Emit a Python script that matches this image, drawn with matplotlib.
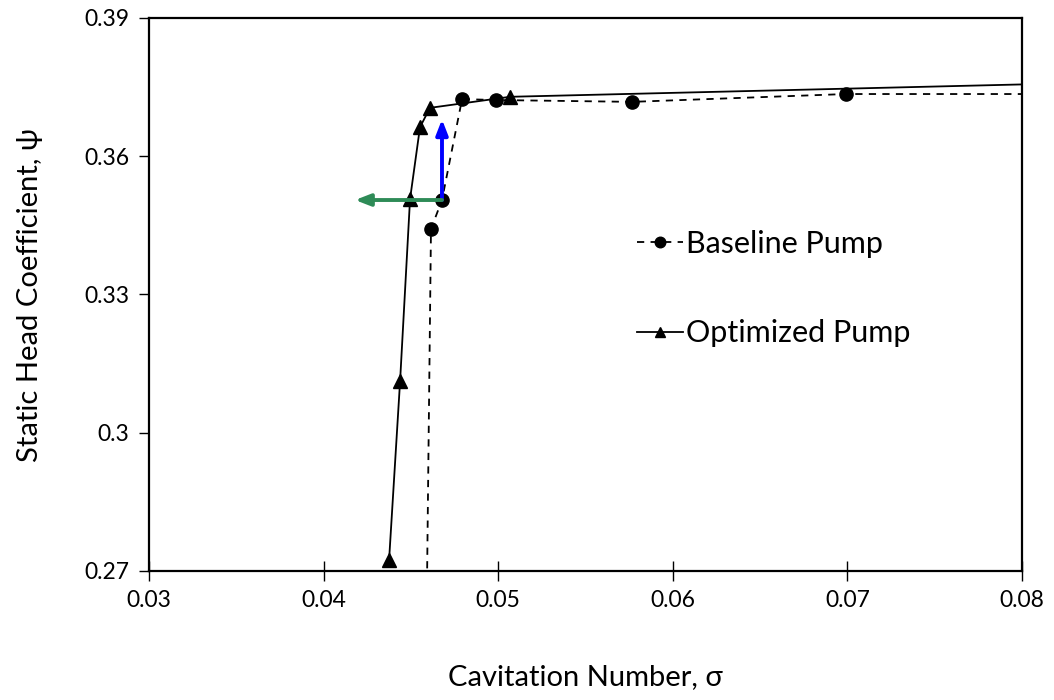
import matplotlib
matplotlib.use('Agg')
import matplotlib.pyplot as plt

# Baseline pump (dashed, circles)
base_sigma = [0.04587, 0.04615, 0.04678, 0.04793, 0.04987, 0.05766, 0.06992, 0.0900]
base_psi = [0.2500, 0.3442, 0.3505, 0.3724, 0.3722, 0.3718, 0.3735, 0.3735]

# Optimized pump (solid, triangles)
opt_sigma = [0.04375, 0.04438, 0.04495, 0.04552, 0.04609, 0.05068, 0.0900]
opt_psi = [0.2724, 0.3112, 0.3507, 0.3663, 0.3705, 0.3729, 0.3765]

xticks = [0.03, 0.04, 0.05, 0.06, 0.07, 0.08]
yticks = [0.27, 0.30, 0.33, 0.36, 0.39]
ytick_labels = ['0.27', '0.3', '0.33', '0.36', '0.39']

# arrow start point and ends
arrow_origin = (0.04678, 0.3505)
arrow_up_end = (0.04678, 0.3680)
arrow_left_end = (0.0418, 0.3505)

font = ['Lato', 'DejaVu Sans']
plt.rcParams['font.family'] = font

fig = plt.figure(figsize=(10.54, 7.0), dpi=100)
ax = fig.add_axes([0.1414, 0.1843, 0.8282, 0.79])

ax.plot(base_sigma, base_psi, color='black', linestyle=(0, (4, 3.5)), linewidth=1.3,
        marker='o', markersize=9.5, label='Baseline Pump')
ax.plot(opt_sigma, opt_psi, color='black', linestyle='-', linewidth=1.3,
        marker='^', markersize=9.5, label='Optimized Pump')

ax.annotate('', xy=arrow_up_end, xytext=arrow_origin,
            arrowprops=dict(arrowstyle='-|>,head_length=0.9,head_width=0.35',
                            color='#0000ff', lw=2.8, shrinkA=0, shrinkB=0))
ax.annotate('', xy=arrow_left_end, xytext=arrow_origin,
            arrowprops=dict(arrowstyle='-|>,head_length=0.9,head_width=0.35',
                            color='#2e8b57', lw=2.8, shrinkA=0, shrinkB=0))

ax.set_xlim(0.03, 0.08)
ax.set_ylim(0.27, 0.39)
ax.set_xticks(xticks)
ax.set_xticklabels([f'{t:.2f}' for t in xticks])
ax.set_yticks(yticks)
ax.set_yticklabels(ytick_labels)
ax.tick_params(axis='x', direction='inout', length=14, width=1, labelsize=16.5, pad=7)
ax.tick_params(axis='y', direction='out', length=7, width=1, labelsize=16.5, pad=7)
for s in ax.spines.values():
    s.set_linewidth(1.6)

ax.set_xlabel('Cavitation Number, σ', fontsize=21, labelpad=38)
ax.set_ylabel('Static Head Coefficient, ψ', fontsize=21, labelpad=30)

ax.legend(loc='upper left', bbox_to_anchor=(0.528, 0.666), frameon=False, fontsize=22,
          handlelength=1.5, handletextpad=0.1, labelspacing=2.0, markerscale=0.8)

fig.savefig('out.png', dpi=100)
